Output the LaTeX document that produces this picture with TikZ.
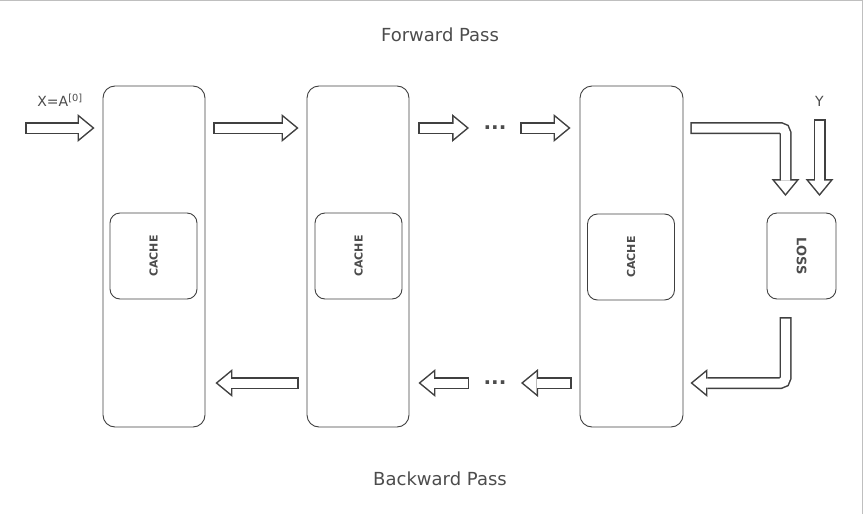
\documentclass[tikz,border=0pt]{standalone}
\usepackage{fontspec}
\setmainfont{DejaVu Sans}
\usetikzlibrary{arrows.meta,calc}

\begin{document}
\begin{tikzpicture}[x=1pt,y=-1pt,
        layer/.style={draw=black!75, line width=0.9pt, rounded corners=12pt, minimum width=102pt, minimum height=341pt, inner sep=0pt},
        cachebox/.style={draw=black!75, line width=0.9pt, rounded corners=10pt, minimum width=86pt, minimum height=87pt, inner sep=0pt, rotate=90, tag},
        tag/.style={text=black!70, font=\bfseries\fontsize{11}{13}\selectfont},
        title/.style={text=black!70, font=\fontsize{18}{20}\selectfont},
        blockarrow/.style={draw=black!75, line width=12pt, -{Triangle[length=17pt,width=28pt,line width=0pt]},
            postaction={draw=white, line width=9pt, shorten <=1.5pt, shorten >=2.4pt, -{Triangle[length=13.1pt,width=21.6pt,line width=0pt]}}}]
        \useasboundingbox (0,0) rectangle (864,514);
        \draw [black!25] (0,0.5) -- (862.5,0.5) -- (862.5,514);
        \coordinate (fy) at (0,128);
        \coordinate (by) at (0,383);
        % layers
        \node [layer] (b1) at (154,256.5) {};
        \node [layer] (b2) at (358,256.5) {};
        \node [layer, minimum width=103pt] (b3) at (631.5,256.5) {};
        \node [cachebox] (c1) at (153.5,256) {CACHE};
        \node [cachebox] (c2) at (358.5,256) {CACHE};
        \node [cachebox] (c3) at (631,257) {CACHE};
        \node [cachebox, minimum height=69pt, rotate=180, font=\bfseries\fontsize{13}{15}\selectfont] (loss) at (801.5,256) {LOSS};
        % texts
        \node [title] (fwd) at (440,35) {Forward Pass};
        \node [title] (bwd) at (440,479) {Backward Pass};
        \node [tag, font=\fontsize{14}{16}\selectfont] (x) at (60,100) {X=A\textsuperscript{[0]}};
        \node [tag, font=\fontsize{14}{16}\selectfont] (ylab) at (819.5,101) {Y};
        \node [tag, font=\bfseries\fontsize{20}{20}\selectfont] (fdots) at (495,128) {...};
        \node [tag, font=\bfseries\fontsize{20}{20}\selectfont] (bdots) at (495,383) {...};
        \coordinate (in) at (25,128);
        \coordinate (yin) at (819.5,119);
        % forward pass
        \draw [blockarrow] (in) -- ($(b1.west |- fy)+(-8,0)$);
        \draw [blockarrow] ($(b1.east |- fy)+(8,0)$) -- ($(b2.west |- fy)+(-8,0)$);
        \draw [blockarrow] ($(b2.east |- fy)+(9,0)$) -- ($(fdots)+(-26,0)$);
        \draw [blockarrow] ($(fdots)+(25,0)$) -- ($(b3.west |- fy)+(-9,0)$);
        \draw [blockarrow, rounded corners=5pt] ($(b3.east |- fy)+(7,0)$) -| ($(loss.center)+(-16,-60)$);
        \draw [blockarrow] (yin) -- ($(loss.center)+(18,-60)$);
        % backward pass
        \draw [blockarrow, rounded corners=5pt] ($(loss.center)+(-16,61)$) |- ($(b3.east |- by)+(7,0)$);
        \draw [blockarrow] ($(b3.west |- by)+(-8,0)$) -- ($(bdots)+(26,0)$);
        \draw [blockarrow] ($(bdots)+(-26,0)$) -- ($(b2.east |- by)+(9,0)$);
        \draw [blockarrow] ($(b2.west |- by)+(-8,0)$) -- ($(b1.east |- by)+(10,0)$);
    \end{tikzpicture}
\end{document}
